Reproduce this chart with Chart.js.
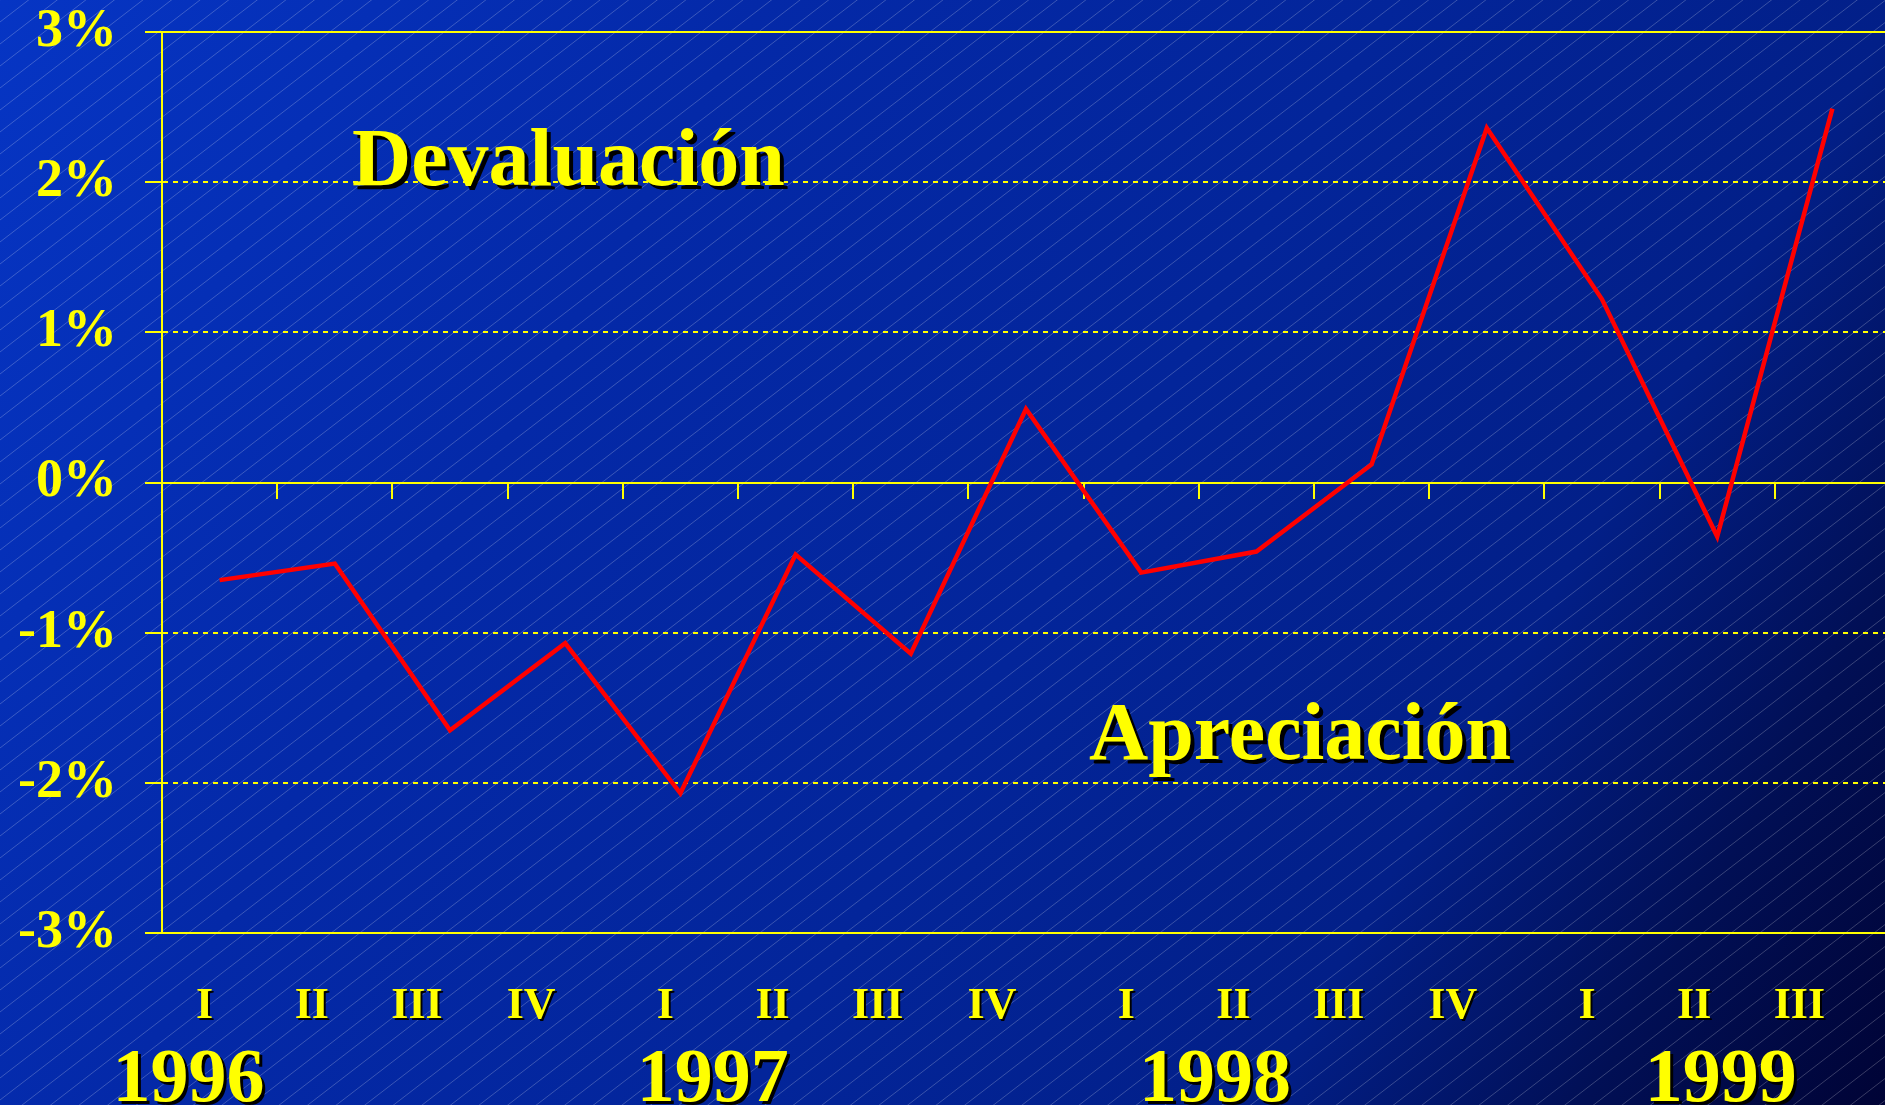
<!DOCTYPE html>
<html>
<head>
<meta charset="utf-8">
<script src="https://cdn.jsdelivr.net/npm/chart.js@4"></script>
<style>
  html, body { margin: 0; padding: 0; overflow: hidden; background: #000335; }
  #wrap { position: relative; width: 1890px; height: 1105px; }
</style>
</head>
<body>
<div id="wrap"><canvas id="tcChart"></canvas></div>
<script>
const quarters = ["I", "II", "III", "IV", "I", "II", "III", "IV", "I", "II", "III", "IV", "I", "II", "III"];
const years = ["1996", "1997", "1998", "1999"];
const variation = [-0.65, -0.54, -1.65, -1.07, -2.07, -0.48, -1.14, 0.49, -0.60, -0.46, 0.12, 2.36, 1.22, -0.36, 2.49];
const yTicks = [-3, -2, -1, 0, 1, 2, 3];
const labelUp = "Devaluación";
const labelDown = "Apreciación";

const YELLOW = "#ffff00";
const SERIF = '"Liberation Serif", "Times New Roman", serif';

// fondo degradado con rayado diagonal
const backdrop = {
  id: "backdrop",
  beforeDraw(chart) {
    const { ctx, width, height } = chart;
    ctx.save();
    const g = ctx.createLinearGradient(0, 0, width, height);
    g.addColorStop(0, "#0635c4");
    g.addColorStop(0.3, "#0429a8");
    g.addColorStop(0.55, "#03259a");
    g.addColorStop(0.75, "#021f88");
    g.addColorStop(0.88, "#010f55");
    g.addColorStop(1, "#000335");
    ctx.fillStyle = g;
    ctx.fillRect(0, 0, width, height);
    ctx.strokeStyle = "rgba(255,255,255,0.22)";
    ctx.lineWidth = 1;
    ctx.beginPath();
    for (let c = 0; c < height + width * 0.77; c += 22) {
      ctx.moveTo(0, c);
      ctx.lineTo(width, c - width * 0.77);
    }
    ctx.stroke();
    ctx.restore();
  }
};

function shadowText(ctx, text, x, y, off) {
  ctx.fillStyle = "#000000";
  ctx.fillText(text, x + off, y + off);
  ctx.fillStyle = YELLOW;
  ctx.fillText(text, x, y);
}

// trimestres, años y rótulos
const labels = {
  id: "labels",
  afterDraw(chart) {
    const { ctx } = chart;
    const x = chart.scales.x;
    const qOff = { I: -15, II: -23, III: -33, IV: -34 };
    const yearPos = [-0.27, 4.28, 8.64, 13.03];
    ctx.save();
    ctx.textAlign = "center";
    ctx.textBaseline = "alphabetic";
    ctx.font = "bold 44px " + SERIF;
    quarters.forEach((q, i) => {
      shadowText(ctx, q, x.getPixelForValue(i) + qOff[q], 1018, 2);
    });
    ctx.font = "bold 76px " + SERIF;
    const step = x.getPixelForValue(1) - x.getPixelForValue(0);
    years.forEach((yr, i) => {
      shadowText(ctx, yr, x.getPixelForValue(0) + yearPos[i] * step, 1101, 3);
    });
    ctx.textAlign = "left";
    ctx.font = "bold 82px " + SERIF;
    shadowText(ctx, labelUp, 352, 185, 4);
    shadowText(ctx, labelDown, 1089, 759, 4);
    ctx.restore();
  }
};

new Chart(document.getElementById("tcChart").getContext("2d"), {
  type: "line",
  data: {
    labels: quarters,
    datasets: [{
      data: variation,
      borderColor: "#ff0000",
      borderWidth: 4.5,
      pointRadius: 0,
      tension: 0,
      fill: false
    }]
  },
  options: {
    responsive: true,
    maintainAspectRatio: false,
    animation: false,
    layout: { padding: { top: 32, bottom: 172, left: 0, right: 0 } },
    plugins: { legend: { display: false }, tooltip: { enabled: false } },
    scales: {
      y: {
        min: -3,
        max: 3,
        afterFit: s => { s.width = 162; s.paddingTop = 0; s.paddingBottom = 0; },
        afterBuildTicks: s => { s.ticks = yTicks.map(v => ({ value: v })); },
        ticks: {
          padding: 28,
          color: YELLOW,
          font: { family: SERIF, size: 54, weight: "bold" },
          callback: v => v + "%"
        },
        grid: {
          color: YELLOW,
          lineWidth: 2,
          tickLength: 17,
          tickBorderDash: []
        },
        border: {
          color: YELLOW,
          width: 2,
          dash: c => (c.tick && Math.abs(c.tick.value) !== 3 && c.tick.value !== 0) ? [5, 5] : []
        }
      },
      x: {
        position: { y: 0 },
        offset: true,
        ticks: { display: false },
        grid: {
          offset: true,
          drawOnChartArea: false,
          color: YELLOW,
          lineWidth: 2,
          tickLength: 15
        },
        border: { color: YELLOW, width: 2 }
      }
    }
  },
  plugins: [backdrop, labels]
});
</script>
</body>
</html>
